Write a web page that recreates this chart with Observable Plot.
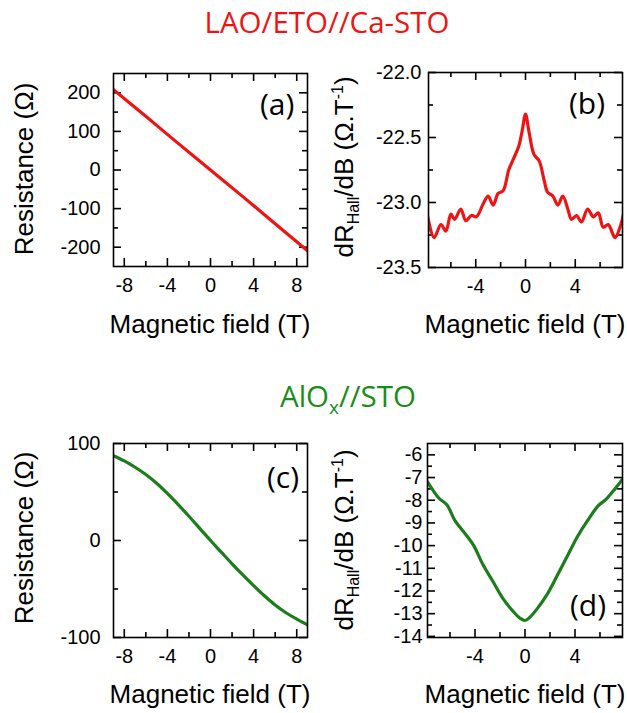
<!DOCTYPE html>
<html><head><meta charset="utf-8">
<script src="https://cdn.jsdelivr.net/npm/d3@7"></script>
<script src="https://cdn.jsdelivr.net/npm/@observablehq/plot@0.6"></script>
<style>
body{margin:0;background:#fff;}
#wrap{position:relative;width:627px;height:713px;overflow:hidden;background:#fff;}
#wrap svg{position:absolute;overflow:visible;}
</style></head><body><div id="wrap"></div>
<script>
// ---- data ----
const fieldA = [-9, -6, -3, 0, 3, 6, 9];
const resistA = [208, 139, 69, 0, -69, -139, -209];

const fieldB = [-7.9,-7.35,-6.8,-6.4,-6.0,-5.7,-5.2,-4.8,-4.35,-3.95,-3.4,-3.0,-2.6,-2.2,-1.8,-1.35,-0.95,-0.55,-0.27,0,0.27,0.68,1.1,1.5,1.77,2.2,2.6,3.0,3.4,3.7,4.1,4.5,5.0,5.45,5.85,6.25,6.65,7.2,7.6,7.9];
const dRdB_B = [-23.09,-23.27,-23.17,-23.22,-23.09,-23.13,-23.05,-23.14,-23.10,-23.11,-23.01,-22.95,-23.02,-22.93,-22.91,-22.75,-22.66,-22.57,-22.45,-22.32,-22.45,-22.63,-22.68,-22.83,-22.92,-22.95,-23.02,-22.95,-23.05,-23.13,-23.10,-23.15,-23.05,-23.11,-23.08,-23.19,-23.17,-23.27,-23.19,-23.08];

const fieldC = [-9,-8,-7,-6,-5,-4,-3,-2,-1,0,1,2,3,4,5,6,7,8,9];
const resistC = [87.5,82,75.5,68,59,48.5,37,25,12.5,0,-12,-24,-35.5,-46.5,-57,-66.5,-74.5,-81,-87];

const fieldD = [-7.9,-6.9,-6.25,-5.6,-4.75,-4.1,-3.4,-2.6,-1.8,-0.95,-0.4,0,0.4,0.95,1.77,2.6,3.4,4.2,5.0,5.85,6.5,7.2,7.9];
const dRdB_D = [-7.1,-7.9,-8.2,-8.9,-9.5,-10.0,-10.8,-11.55,-12.3,-12.9,-13.2,-13.3,-13.15,-12.8,-12.15,-11.3,-10.45,-9.6,-8.9,-8.25,-7.95,-7.5,-7.0];

// ticks (labels = major ticks)
const xLabelsAC = [-8, -4, 0, 4, 8];
const xMinorAC = [-6, -2, 2, 6];
const xLabelsBD = [-4, 0, 4];
const xMinorBD = [-6, -2, 2, 6];
const yLabelsA = [-200, -100, 0, 100, 200];
const yMinorA = [-150, -50, 50, 150];
const yLabelsB = [-23.5, -23.0, -22.5, -22.0];
const yMinorB = [-23.25, -22.75, -22.25];
const yLabelsC = [-100, 0, 100];
const yMinorC = [-50, 50];
const yLabelsD = [-14, -13, -12, -11, -10, -9, -8, -7, -6];
const yMinorD = [-13.5, -12.5, -11.5, -10.5, -9.5, -8.5, -7.5, -6.5];

const titleTop = "LAO/ETO//Ca-STO";
const xTitle = "Magnetic field (T)";
const yTitleR = "Resistance (Ω)";

const RED = "#ee1414", GREEN = "#1d7d1d", GREEN_T = "#1a8c1a";
const wrap = document.getElementById("wrap");

function tickMarks(xs, ys, iw, ih, len) {
  const o = {stroke: "#000", strokeWidth: 1.6};
  return [
    Plot.tickX(xs, {x: d => d, insetTop: ih - len, ...o}),
    Plot.tickX(xs, {x: d => d, insetBottom: ih - len, ...o}),
    Plot.tickY(ys, {y: d => d, insetRight: iw - len, ...o}),
    Plot.tickY(ys, {y: d => d, insetLeft: iw - len, ...o})
  ];
}

function panel(p) {
  const data = p.xs.map((v, i) => ({x: v, y: p.ys[i]}));
  const iw = p.w - p.ml - p.mr, ih = p.h - p.mt - p.mb;
  const chart = Plot.plot({
    width: p.w, height: p.h,
    marginLeft: p.ml, marginRight: p.mr, marginTop: p.mt, marginBottom: p.mb,
    style: {fontFamily: "'Liberation Sans', Arial, sans-serif", fontSize: "20px", background: "transparent", color: "#000", overflow: "visible"},
    x: {domain: p.xDomain},
    y: {domain: p.yDomain},
    marks: [
      ...tickMarks(p.xLabels, p.yLabels, iw, ih, 8),
      ...tickMarks(p.xMinor, p.yMinor, iw, ih, 5),
      Plot.line(data, {x: "x", y: "y", stroke: p.color, strokeWidth: 3.2, curve: "catmull-rom", clip: true}),
      Plot.axisX(p.xLabels, {anchor: "bottom", tickSize: 0, tickPadding: 11, label: null, fontSize: 20, tickFormat: d => String(d)}),
      Plot.axisY(p.yLabels, {anchor: "left", tickSize: 0, tickPadding: p.yPad, label: null, fontSize: 20, tickFormat: p.yFmt}),
      Plot.frame({stroke: "#000", strokeWidth: 1.6})
    ]
  });
  chart.style.left = p.left + "px";
  chart.style.top = p.top + "px";
  wrap.appendChild(chart);
}

const intFmt = d => String(d);
panel({xs: fieldA, ys: resistA, color: RED, left: 0, top: 40, w: 320, h: 270, ml: 113, mr: 13, mt: 33, mb: 44,
  xDomain: [-9, 9], yDomain: [-250, 250], xLabels: xLabelsAC, xMinor: xMinorAC, yLabels: yLabelsA, yMinor: yMinorA, yFmt: intFmt, yPad: 13});
panel({xs: fieldB, ys: dRdB_B, color: RED, left: 320, top: 40, w: 307, h: 270, ml: 108, mr: 5, mt: 32, mb: 43,
  xDomain: [-7.8, 7.8], yDomain: [-23.5, -22.0], xLabels: xLabelsBD, xMinor: xMinorBD, yLabels: yLabelsB, yMinor: yMinorB, yFmt: d => d.toFixed(1), yPad: 7});
panel({xs: fieldC, ys: resistC, color: GREEN, left: 0, top: 410, w: 320, h: 270, ml: 113, mr: 13, mt: 33, mb: 43,
  xDomain: [-9, 9], yDomain: [-100, 100], xLabels: xLabelsAC, xMinor: xMinorAC, yLabels: yLabelsC, yMinor: yMinorC, yFmt: intFmt, yPad: 13});
panel({xs: fieldD, ys: dRdB_D, color: GREEN, left: 320, top: 410, w: 307, h: 270, ml: 107, mr: 5, mt: 33, mb: 43,
  xDomain: [-7.8, 7.8], yDomain: [-14.05, -5.5], xLabels: xLabelsBD, xMinor: xMinorBD, yLabels: yLabelsD, yMinor: yMinorD, yFmt: intFmt, yPad: 5});

// ---- overlay text ----
const ov = d3.select(wrap).append("svg").attr("width", 627).attr("height", 713).style("left", "0px").style("top", "0px");
const sans = "'Liberation Sans', Arial, sans-serif";
const calib = "'Open Sans', 'Noto Sans', sans-serif";

ov.append("text").attr("x", 327).attr("y", 33).attr("text-anchor", "middle")
  .attr("font-family", calib).attr("font-size", 29.5).attr("fill", RED).text(titleTop);
const t2 = ov.append("text").attr("x", 348).attr("y", 407).attr("text-anchor", "middle")
  .attr("font-family", calib).attr("font-size", 29.5).attr("fill", GREEN_T);
t2.append("tspan").text("AlO");
t2.append("tspan").attr("dy", 7).attr("font-size", 19).text("x");
t2.append("tspan").attr("dy", -7).text("//STO");

[[210, 333], [525, 333], [210, 703], [525, 703]].forEach(([x, y]) => {
  ov.append("text").attr("x", x).attr("y", y).attr("text-anchor", "middle")
    .attr("font-family", sans).attr("font-size", 26).attr("fill", "#000").text(xTitle);
});
[[33, 169], [33, 538]].forEach(([x, y]) => {
  ov.append("text").attr("transform", `translate(${x},${y}) rotate(-90)`).attr("text-anchor", "middle")
    .attr("font-family", sans).attr("font-size", 26).attr("fill", "#000").text(yTitleR);
});
[[353, 167], [353, 540]].forEach(([x, y]) => {
  const t = ov.append("text").attr("transform", `translate(${x},${y}) rotate(-90)`).attr("text-anchor", "middle")
    .attr("font-family", sans).attr("font-size", 26).attr("fill", "#000");
  t.append("tspan").text("dR");
  t.append("tspan").attr("dy", 6).attr("font-size", 16).text("Hall");
  t.append("tspan").attr("dy", -6).text("/dB (Ω.T");
  t.append("tspan").attr("dy", -10).attr("font-size", 16).text("-1");
  t.append("tspan").attr("dy", 10).text(")");
});
[["(a)", 260, 115], ["(b)", 569, 114], ["(c)", 267, 488], ["(d)", 570, 616]].forEach(([s, x, y]) => {
  ov.append("text").attr("x", x).attr("y", y).attr("font-family", calib).attr("font-size", 30).attr("fill", "#000").text(s);
});
</script>
</body></html>
